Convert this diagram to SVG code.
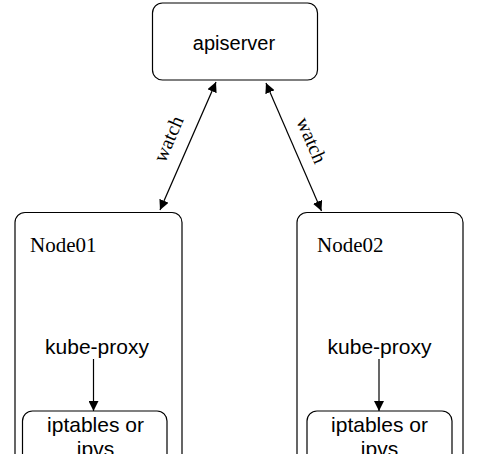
<svg xmlns="http://www.w3.org/2000/svg" width="490" height="454" viewBox="0 0 490 454">
<defs>
<marker id="ah" viewBox="0 0 10 10" refX="10" refY="5" markerWidth="10" markerHeight="10" markerUnits="userSpaceOnUse" orient="auto-start-reverse">
<path d="M0,0 L10,5 L0,10 z" fill="#000"/>
</marker>
<style>
.box{fill:#fff;stroke:#000;stroke-width:1.2}
.sans{font-family:"Liberation Sans",Arial,sans-serif;font-size:21px;fill:#000;text-anchor:middle}
.serif{font-family:"Liberation Serif","Times New Roman",serif;font-size:20px;fill:#000}
.line{stroke:#000;stroke-width:1.2;fill:none}
</style>
</defs>
<rect width="490" height="454" fill="#fff"/>
<g id="apiserver">
<rect class="box" x="152.5" y="3" width="165" height="77" rx="10"/>
<text class="sans" x="234" y="50" style="font-size:20px">apiserver</text>
</g>
<g id="node01">
<rect class="box" x="15" y="212.5" width="167" height="260" rx="10"/>
<text class="serif" x="30" y="251.5" style="font-size:21px">Node01</text>
<text class="sans" x="97" y="354">kube-proxy</text>
</g>
<g id="node01-iptables">
<rect class="box" x="22.5" y="411" width="144.5" height="60" rx="10"/>
<text class="sans" x="95.5" y="431.5">iptables or</text>
<text class="sans" x="95.5" y="456">ipvs</text>
</g>
<g id="node02">
<rect class="box" x="297" y="212.5" width="166" height="260" rx="10"/>
<text class="serif" x="317" y="251.5" style="font-size:21px">Node02</text>
<text class="sans" x="379.5" y="354">kube-proxy</text>
</g>
<g id="node02-iptables">
<rect class="box" x="307" y="411" width="145" height="60" rx="10"/>
<text class="sans" x="379.5" y="431.5">iptables or</text>
<text class="sans" x="379.5" y="456">ipvs</text>
</g>
<g id="connectors">
<line class="line" x1="160" y1="210" x2="216" y2="82" marker-start="url(#ah)" marker-end="url(#ah)"/>
<line class="line" x1="266" y1="83" x2="321.5" y2="211" marker-start="url(#ah)" marker-end="url(#ah)"/>
<line class="line" x1="93.5" y1="359" x2="93.5" y2="411" marker-end="url(#ah)"/>
<line class="line" x1="379" y1="359" x2="379" y2="411" marker-end="url(#ah)"/>
<text class="serif" text-anchor="middle" transform="translate(174.5,141.5) rotate(-66.4)">watch</text>
<text class="serif" text-anchor="middle" transform="translate(305.5,143) rotate(66.4)">watch</text>
</g>
</svg>
